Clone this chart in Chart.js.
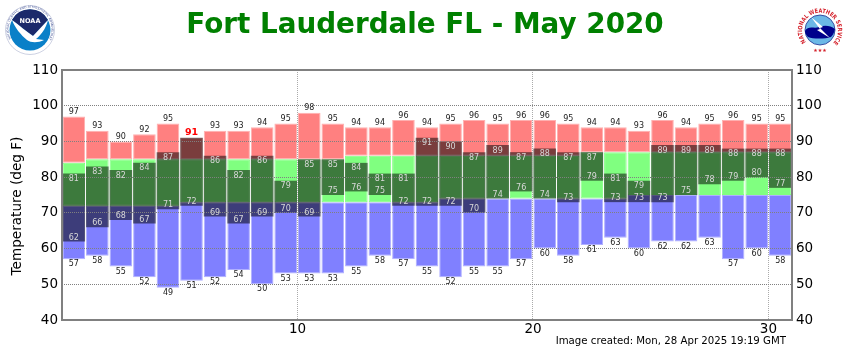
<!DOCTYPE html>
<html>
<head>
<meta charset="utf-8">
<style>
    html, body { margin: 0; padding: 0; background: #fff; }
    #wrap { position: relative; width: 850px; height: 350px; overflow: hidden; font-family: "DejaVu Sans", Verdana, sans-serif; }
    #chart { position: absolute; left: 0; top: 0; }
    #title { position: absolute; left: 0; width: 850px; top: 7px; text-align: center; font-size: 27.8px; font-weight: bold; color: #008000; }
    #created { position: absolute; right: 64px; top: 335px; font-size: 10.2px; color: #000; }
    #ylabel { position: absolute; left: 16px; top: 206px; font-size: 13.6px; color: #000; white-space: nowrap; transform: translate(-50%, -50%) rotate(-90deg); }
    .logo { position: absolute; }
</style>
</head>
<body>
<div id="wrap">
    <canvas id="chart" width="850" height="350"></canvas>
    <div id="title">Fort Lauderdale FL - May 2020</div>
    <div id="ylabel">Temperature (deg F)</div>
    <div id="created">Image created: Mon, 28 Apr 2025 19:19 GMT</div>

    <svg class="logo" style="left:5px;top:5px" width="50" height="50" viewBox="0 0 50 50">
        <defs><path id="noaaRing" d="M6 34 A21.4 21.4 0 1 1 44 34"/></defs>
        <circle cx="25" cy="25" r="24.5" fill="#fff" stroke="#9aa3c4" stroke-width="0.5"/>
        <text font-size="3" fill="#4a5a9a" font-family="DejaVu Sans"><textPath href="#noaaRing" textLength="94" lengthAdjust="spacingAndGlyphs">NATIONAL OCEANIC AND ATMOSPHERIC ADMINISTRATION</textPath></text>
        <circle cx="25" cy="25" r="20.5" fill="#0a80c8"/>
        <path d="M7 15 A20.5 20.5 0 0 1 43 15 C38 20 33 26 28 31 C22 27 14 20 7 15 Z" fill="#1b2a6b"/>
        <path d="M7 15 C14 20 22 27 28 31 C33 26 38 20 43 15 C41 24 35 31 31 34 L39 35 C33 38 26 38 22 35 C16 30 10 23 7 15 Z" fill="#fff"/>
        <text x="25" y="17.5" text-anchor="middle" font-size="6.5" font-weight="bold" fill="#fff" font-family="DejaVu Sans">NOAA</text>
    </svg>

    <svg class="logo" style="left:795px;top:5px" width="50" height="50" viewBox="0 0 50 50">
        <defs><path id="nwsRing" d="M11 37 A18 18 0 1 1 39 37"/></defs>
        <text font-size="6" font-weight="bold" fill="#d4202a" font-family="DejaVu Sans"><textPath href="#nwsRing" textLength="82" lengthAdjust="spacingAndGlyphs">NATIONAL WEATHER SERVICE</textPath></text>
        <circle cx="25" cy="25" r="15" fill="#6cb8e6" stroke="#1c2f8f" stroke-width="0.8"/>
        <path d="M10 26 C13 20 19 24 24 22 C29 20 35 20 40 24 C39 28 38 30 36 32 C30 34 18 34 13 32 C11 30 10 28 10 26 Z" fill="#00008b"/>
        <path d="M16 12 L28 22 L25 23 L35 33 L22 25 L25 24 Z" fill="#fff"/>
        <text x="25" y="47" text-anchor="middle" font-size="5" fill="#d4202a" font-family="DejaVu Sans">★★★</text>
    </svg>
</div>

<script src="https://cdn.jsdelivr.net/npm/chart.js@4"></script>
<script>
// May 2020 daily values, deg F, one entry per day
const days = Array.from({ length: 31 }, (_, i) => String(i + 1));
const recHigh  = [97, 93, 90, 92, 95, 91, 93, 93, 94, 95, 98, 95, 94, 94, 96, 94, 95, 96, 95, 96, 96, 95, 94, 94, 93, 96, 94, 95, 96, 95, 95];
const normHigh = [84, 85, 85, 85, 85, 85, 85, 85, 85, 85, 85, 85, 86, 86, 86, 86, 86, 86, 86, 86, 86, 86, 87, 87, 87, 87, 87, 87, 87, 87, 87];
const obsHigh  = [81, 83, 82, 84, 87, 91, 86, 82, 86, 79, 85, 85, 84, 81, 81, 91, 90, 87, 89, 87, 88, 87, 87, 81, 79, 89, 89, 89, 88, 88, 88];
const obsLow   = [62, 66, 68, 67, 71, 72, 69, 67, 69, 70, 69, 75, 76, 75, 72, 72, 72, 70, 74, 76, 74, 73, 79, 73, 73, 73, 75, 78, 79, 80, 77];
const normLow  = [72, 72, 72, 72, 72, 73, 73, 73, 73, 73, 73, 73, 73, 73, 73, 73, 74, 74, 74, 74, 74, 74, 74, 74, 75, 75, 75, 75, 75, 75, 75];
const recLow   = [57, 58, 55, 52, 49, 51, 52, 54, 50, 53, 53, 53, 55, 58, 57, 55, 52, 55, 55, 57, 60, 58, 61, 63, 60, 62, 62, 63, 57, 60, 58];
const tempTicks = [40, 50, 60, 70, 80, 90, 100, 110];
const dayTicks = [10, 20, 30];

const floating = (lo, hi) => lo.map((v, i) => [v, hi[i]]);

const bandBar = (data, bg, edge) => ({
    data,
    backgroundColor: bg,
    borderColor: edge,
    borderWidth: 1,
    borderSkipped: false,
    xAxisID: 'x',
    yAxisID: 'y',
});

// value labels and the frame go on last, over bars and grid
const valueLabels = {
    id: 'valueLabels',
    afterDraw(chart) {
        const { ctx, chartArea, scales: { x, y } } = chart;
        ctx.save();
        ctx.strokeStyle = '#808080';
        ctx.lineWidth = 2;
        ctx.strokeRect(chartArea.left, chartArea.top, chartArea.right - chartArea.left, chartArea.bottom - chartArea.top);

        ctx.textAlign = 'center';
        ctx.textBaseline = 'middle';
        days.forEach((d, i) => {
            const px = x.getPixelForValue(i);
            const isRecord = obsHigh[i] >= recHigh[i];
            if (isRecord) {
                ctx.font = 'bold 9.5px "DejaVu Sans"';
                ctx.fillStyle = '#ff0000';
                ctx.fillText(recHigh[i], px, y.getPixelForValue(recHigh[i]) - 5.5);
            } else {
                ctx.font = '8px "DejaVu Sans"';
                ctx.fillStyle = '#222';
                ctx.fillText(recHigh[i], px, y.getPixelForValue(recHigh[i]) - 4.5);
                ctx.fillStyle = '#d8d8d8';
                ctx.fillText(obsHigh[i], px, y.getPixelForValue(obsHigh[i]) + 5.5);
            }
            ctx.font = '8px "DejaVu Sans"';
            ctx.fillStyle = '#d8d8d8';
            ctx.fillText(obsLow[i], px, y.getPixelForValue(obsLow[i]) - 4);
            ctx.fillStyle = '#222';
            ctx.fillText(recLow[i], px, y.getPixelForValue(recLow[i]) + 5);
        });
        ctx.restore();
    },
};

const tickFont = { family: 'DejaVu Sans', size: 13.5 };

new Chart(document.getElementById('chart').getContext('2d'), {
    type: 'bar',
    data: {
        labels: days,
        datasets: [
            {
                data: floating(obsLow, obsHigh),
                backgroundColor: 'rgba(0,0,0,0.52)',
                borderWidth: 0,
                xAxisID: 'x',
                yAxisID: 'y',
                order: 1,
            },
            { ...bandBar(floating(normHigh, recHigh), '#ff8080', '#ffb0b0'), order: 2 },
            { ...bandBar(floating(normLow, normHigh), '#80ff80', '#80ff80'), order: 2 },
            { ...bandBar(floating(recLow, normLow), '#8080ff', '#b0b0ff'), order: 2 },
        ],
    },
    options: {
        responsive: false,
        animation: false,
        layout: { padding: { top: 70 } },
        plugins: { legend: { display: false }, tooltip: { enabled: false } },
        datasets: { bar: { grouped: false, categoryPercentage: 1, barPercentage: 0.96 } },
        scales: {
            x: { display: false, offset: true },
            xDays: {
                type: 'linear',
                position: 'bottom',
                offset: false,
                min: 0,
                max: 31,
                afterBuildTicks: axis => { axis.ticks = dayTicks.map(value => ({ value })); },
                afterFit: axis => { axis.height = 30; },
                ticks: { color: '#000', font: tickFont, padding: 1, maxRotation: 0, autoSkip: false },
                grid: { offset: false, color: '#aaa', lineWidth: 1, z: 1, drawTicks: false },
                border: { display: false, dash: [1, 1] },
            },
            y: {
                position: 'left',
                min: 40,
                max: 110,
                afterBuildTicks: axis => { axis.ticks = tempTicks.map(value => ({ value })); },
                afterFit: axis => { axis.width = 62; },
                ticks: { color: '#000', font: tickFont, padding: 4 },
                grid: { color: '#808080', lineWidth: 1, z: 1, drawTicks: false },
                border: { display: false, dash: [1, 1] },
            },
            yRight: {
                position: 'right',
                min: 40,
                max: 110,
                afterBuildTicks: axis => { axis.ticks = tempTicks.map(value => ({ value })); },
                afterFit: axis => { axis.width = 58; },
                ticks: { color: '#000', font: tickFont, padding: 4 },
                grid: { drawOnChartArea: false, drawTicks: false },
                border: { display: false },
            },
        },
    },
    plugins: [valueLabels],
});
</script>
</body>
</html>
